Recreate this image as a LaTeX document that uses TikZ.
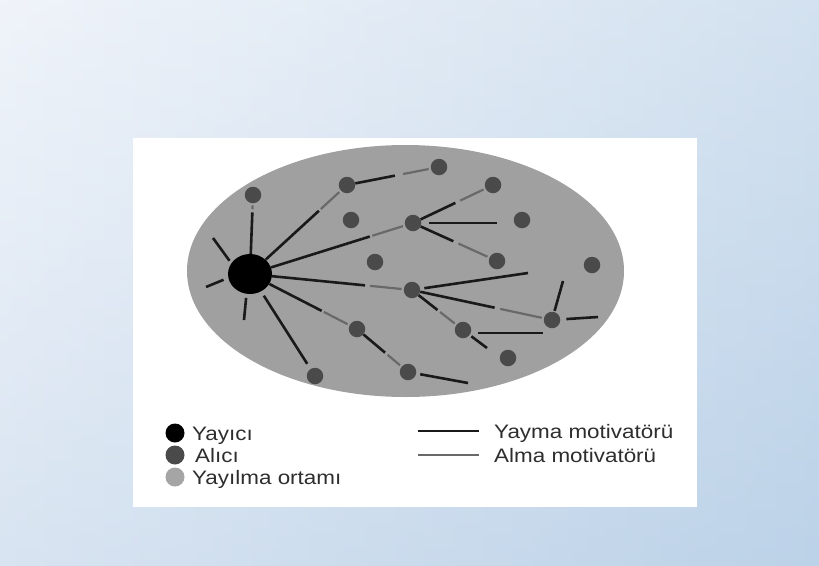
\documentclass[tikz,border=0pt]{standalone}
\usepackage{fontspec}
\setmainfont{Liberation Sans}
\newfontfamily\legendfont[FakeStretch=1.15]{Liberation Sans}
\usetikzlibrary{calc,shapes.geometric}
\definecolor{bgA}{RGB}{232,238,247}
\definecolor{bgB}{RGB}{242,245,251}
\definecolor{bgC}{RGB}{188,210,232}
\definecolor{medium}{RGB}{160,160,160}
\definecolor{recv}{RGB}{74,74,74}
\definecolor{spreadc}{RGB}{25,25,25}
\definecolor{recvline}{RGB}{105,105,105}
\definecolor{legendgray}{RGB}{165,165,165}
\newcommand\motiv[4]{%
  \draw[spread] (#1) -- ($(#1)!#3!(#2)$);
  \draw[recvl] ($(#1)!#4!(#2)$) -- (#2);}
\begin{document}
\begin{tikzpicture}[x=1pt,y=-1pt,
  source/.style={ellipse, fill=black, minimum width=44pt, minimum height=40pt, inner sep=0pt},
  receiver/.style={circle, fill=recv, minimum size=16.5pt, inner sep=0pt},
  spread/.style={draw=spreadc, line width=2.6pt},
  recvl/.style={draw=recvline, line width=2.2pt, shorten >=2pt},
  legtext/.style={anchor=base west, font=\legendfont\fontsize{19.5}{20}\selectfont, text=black!82, inner sep=0pt},
  legdot/.style={circle, minimum size=19pt, inner sep=0pt}]
\useasboundingbox (0,0) rectangle (819,565);
% slide background
\shade[left color=bgA, middle color=bgB, right color=bgC] (0,0) rectangle (819,565);
\shade[top color=white, bottom color=bgC, opacity=0.35] (0,0) rectangle (819,565);
% white panel and medium
\fill[white] (133,138) rectangle (697,507);
\fill[medium] (405.5,271) ellipse [x radius=218.5, y radius=126];
% nodes
\node[source] (S) at (250,274) {};
\node[receiver] (N1) at (253,195) {};
\node[receiver] (N2) at (347,185) {};
\node[receiver] (N5) at (439,167) {};
\node[receiver] (N6) at (493,185) {};
\node[receiver] (N3) at (351,220) {};
\node[receiver] (N4) at (413,223) {};
\node[receiver] (N7) at (522,220) {};
\node[receiver] (N9) at (375,262) {};
\node[receiver] (N8) at (497,261) {};
\node[receiver] (N14) at (592,265) {};
\node[receiver] (N10) at (412,290) {};
\node[receiver] (N11) at (357,329) {};
\node[receiver] (N16) at (463,330) {};
\node[receiver] (N15) at (552,320) {};
\node[receiver] (N17) at (508,358) {};
\node[receiver] (N12) at (315,376) {};
\node[receiver] (N13) at (408,372) {};
% free ends
\coordinate (sA) at (213,238);
\coordinate (sB) at (206,287);
\coordinate (sC) at (244,320);
\coordinate (s4) at (497,223);
\coordinate (s10) at (528,273);
\coordinate (s15u) at (563,281);
\coordinate (s15r) at (598,317);
\coordinate (s16) at (487,348);
\coordinate (s13) at (468,383);
% connectors from the source
\motiv{S}{N1}{0.78}{0.82}
\motiv{S}{N2}{0.71}{0.73}
\motiv{S}{N4}{0.735}{0.75}
\motiv{S}{N10}{0.71}{0.74}
\motiv{S}{N11}{0.67}{0.69}
\draw[spread, shorten <=5pt, shorten >=6pt] (S) -- (N12);
\draw[spread, shorten <=3pt] (S.150) -- (sA);
\draw[spread, shorten <=5pt] (S.190) -- (sB);
\draw[spread, shorten <=4pt] (S.260) -- (sC);
% connectors between receivers
\motiv{N2}{N5}{0.52}{0.61}
\motiv{N4}{N6}{0.53}{0.59}
\motiv{N4}{N8}{0.48}{0.54}
\motiv{N10}{N15}{0.59}{0.63}
\motiv{N10}{N16}{0.5}{0.55}
\motiv{N11}{N13}{0.55}{0.6}
\draw[spread] ($(N16.east)+(7,3)$) -- ($(N15.west)+(-1,13)$);
\draw[spread, shorten <=8pt] (N4) -- (s4);
\draw[spread, shorten <=4pt] (N10) -- (s10);
\draw[spread, shorten <=1pt] (N15) -- (s15u);
\draw[spread, shorten <=6pt] (N15) -- (s15r);
\draw[spread, shorten <=2pt] (N16) -- (s16);
\draw[spread, shorten <=4pt] (N13) -- (s13);
% legend
\node[legdot, fill=black] (LY) at (175,433) {};
\node[legdot, fill=recv] (LA) at (175,455) {};
\node[legdot, fill=legendgray] (LO) at (175,477) {};
\node[legtext] (TY) at (192,440) {Yayıcı};
\node[legtext] (TA) at (195,462) {Alıcı};
\node[legtext] (TO) at (192,484) {Yayılma ortamı};
\coordinate (LS1) at (418,431);
\coordinate (LS2) at (479,431);
\coordinate (LR1) at (418,455);
\coordinate (LR2) at (479,455);
\draw[spread] (LS1) -- (LS2);
\draw[draw=recvline, line width=2.6pt] (LR1) -- (LR2);
\node[legtext] (TS) at (494,438) {Yayma motivatörü};
\node[legtext] (TR) at (494,462) {Alma motivatörü};
\end{tikzpicture}
\end{document}
